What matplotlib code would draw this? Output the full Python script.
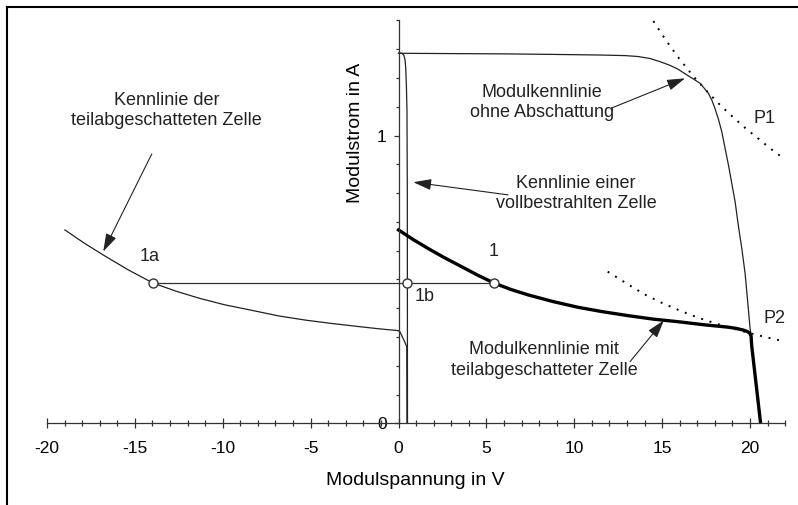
import matplotlib
matplotlib.use("Agg")
import matplotlib.pyplot as plt
from matplotlib.lines import Line2D
from matplotlib.ticker import MultipleLocator

plt.rcParams['font.family'] = ['Liberation Sans', 'DejaVu Sans']
plt.rcParams['axes.unicode_minus'] = False

# Modulkennlinie ohne Abschattung (duenn)
mod_u = [0.0, 3.0, 6.0, 9.0, 11.5, 12.88, 13.6, 14.3, 14.88, 15.45, 15.92, 16.4, 16.77, 17.15, 17.4, 17.63,
         17.82, 18.0, 18.2, 18.39, 18.58, 18.77, 18.96, 19.15, 19.33, 19.53, 19.72, 19.9, 20.0, 20.06, 20.09, 20.6]
mod_i = [1.286, 1.285, 1.284, 1.282, 1.280, 1.278, 1.275, 1.268, 1.257, 1.244, 1.230, 1.211, 1.197, 1.182, 1.164, 1.147,
         1.124, 1.095, 1.057, 1.014, 0.956, 0.898, 0.834, 0.770, 0.689, 0.608, 0.52, 0.40, 0.33, 0.307, 0.272, 0.0]

# Kennlinie der vollbestrahlten Zelle
cell_u = [0.0, 0.2, 0.3, 0.37, 0.41, 0.45, 0.48, 0.5, 0.51]
cell_i = [1.286, 1.286, 1.28, 1.263, 1.235, 1.17, 1.09, 0.8, 0.0]

# Kennlinie der teilabgeschatteten Zelle
shade_u = [-18.98, -17.9, -16.8, -15.4, -13.95, -12.6, -11.3, -9.9, -8.45, -6.8, -5.22, -3.8, -2.38, -1.2,
           0.0, 0.08, 0.3, 0.47, 0.48]
shade_i = [0.672, 0.627, 0.585, 0.534, 0.487, 0.458, 0.434, 0.412, 0.394, 0.373, 0.358, 0.347, 0.337, 0.329,
           0.322, 0.318, 0.29, 0.266, 0.0]

# Modulkennlinie mit teilabgeschatteter Zelle (dick)
part_u = [0.0, 0.85, 1.7, 2.6, 3.6, 4.5, 5.45, 6.4, 7.39, 8.8, 10.23, 11.6, 13.08, 14.5, 15.92, 17.3, 18.77,
          19.2, 19.62, 19.85, 19.98, 20.06, 20.09, 20.6]
part_i = [0.672, 0.638, 0.607, 0.576, 0.544, 0.515, 0.487, 0.465, 0.446, 0.423, 0.403, 0.388, 0.374, 0.362,
          0.353, 0.343, 0.334, 0.330, 0.324, 0.319, 0.313, 0.303, 0.272, 0.0]

# Leistungshyperbeln P1 und P2
p1_u = [14.5, 15.25, 16.0, 16.75, 17.5, 18.25, 19.0, 19.75, 20.5, 21.2, 21.9]
p1_i = [1.398, 1.328, 1.265, 1.208, 1.157, 1.109, 1.066, 1.025, 0.988, 0.953, 0.921]
p2_u = [11.9, 13.0, 14.0, 15.0, 16.0, 17.0, 18.0, 19.0, 20.0, 21.0, 22.0]
p2_i = [0.527, 0.485, 0.448, 0.418, 0.392, 0.368, 0.348, 0.330, 0.313, 0.298, 0.284]

# Arbeitspunkte 1a, 1b, 1
op_names = ['1a', '1b', '1']
op_u = [-13.95, 0.48, 5.45]
op_i = [0.487, 0.487, 0.487]

fig = plt.figure(figsize=(7.98, 5.05), dpi=100)
ax = fig.add_axes([47 / 798, 81.7 / 505, 738.2 / 798, 402.8 / 505])

ax.plot(p1_u, p1_i, color='k', lw=1.4, ls=(0, (1, 3.5)))
ax.plot(p2_u, p2_i, color='k', lw=1.4, ls=(0, (1, 3.5)))
ax.plot(mod_u, mod_i, color='#222222', lw=0.9)
ax.plot(cell_u, cell_i, color='#222222', lw=0.9)
ax.plot(shade_u, shade_i, color='#222222', lw=0.9)
ax.plot(part_u, part_i, color='k', lw=2.4, solid_joinstyle='round')
ax.plot([op_u[0], op_u[2]], [op_i[0], op_i[2]], color='#333333', lw=0.9)
ax.plot(op_u, op_i, 'o', ms=6.5, mfc='white', mec='#333333', mew=1.0, zorder=5)

ax.set_xlim(-20, 22)
ax.set_ylim(0, 1.4)
ax.spines['left'].set_position(('data', 0))
ax.spines['top'].set_visible(False)
ax.spines['right'].set_visible(False)
for s in ax.spines.values():
    s.set_color('#333333')
    s.set_linewidth(0.9)

ax.xaxis.set_major_locator(MultipleLocator(5))
ax.xaxis.set_minor_locator(MultipleLocator(1))
ax.yaxis.set_major_locator(MultipleLocator(1))
ax.yaxis.set_minor_locator(MultipleLocator(0.1))
ax.tick_params(axis='x', which='major', direction='inout', length=7.5, width=0.9, pad=9, labelsize=12.5, color='#333333')
ax.tick_params(axis='x', which='minor', direction='inout', length=4.5, width=0.9, color='#333333')
ax.tick_params(axis='y', which='major', direction='out', length=3.5, width=0.9, pad=5, labelsize=12.5, color='#333333')
ax.tick_params(axis='y', which='minor', direction='out', length=2.5, width=0.9, color='#333333')

ax.set_xlabel('Modulspannung in V', fontsize=14)
ax.xaxis.set_label_coords(0.4985, -0.122)
ax.set_ylabel('Modulstrom in A', fontsize=14)
ax.yaxis.set_label_coords(0.4294, 0.722)

label_pos = {'1a': (-14.14, 0.579), '1b': (1.47, 0.442), '1': (5.4, 0.597)}
for name in op_names:
    ax.text(label_pos[name][0], label_pos[name][1], name, fontsize=13, ha='center', va='center', color='#222222')
ax.text(20.85, 1.058, 'P1', fontsize=13, ha='center', va='center', color='#222222')
ax.text(21.4, 0.365, 'P2', fontsize=13, ha='center', va='center', color='#222222')

arrow = dict(arrowstyle='-|>,head_length=1.1,head_width=0.34', color='#222222',
             lw=0.8, shrinkA=0, shrinkB=0, mutation_scale=10)
notes = [
    ('Kennlinie der\nteilabgeschatteten Zelle', (-13.2, 1.087), (-14.04, 0.936), (-16.8, 0.597)),
    ('Modulkennlinie\nohne Abschattung', (8.17, 1.115), (12.13, 1.096), (16.3, 1.199)),
    ('Kennlinie einer\nvollbestrahlten Zelle', (10.1, 0.80), (6.23, 0.794), (0.84, 0.838)),
    ('Modulkennlinie mit\nteilabgeschatteter Zelle', (8.3, 0.22), (13.17, 0.214), (15.1, 0.358)),
]
for label, txt_pos, tail, tip in notes:
    ax.text(txt_pos[0], txt_pos[1], label, fontsize=13, ha='center', va='center',
            linespacing=1.25, color='#222222')
    ax.annotate('', xy=tip, xytext=tail, arrowprops=arrow)

# Rahmen um das Bild
fig.add_artist(Line2D([7 / 798, 7 / 798], [0, 1 - 7 / 505], color='k', lw=1.5))
fig.add_artist(Line2D([7 / 798, 1], [1 - 7 / 505, 1 - 7 / 505], color='k', lw=1.5))

plt.savefig('out.png', dpi=100)
